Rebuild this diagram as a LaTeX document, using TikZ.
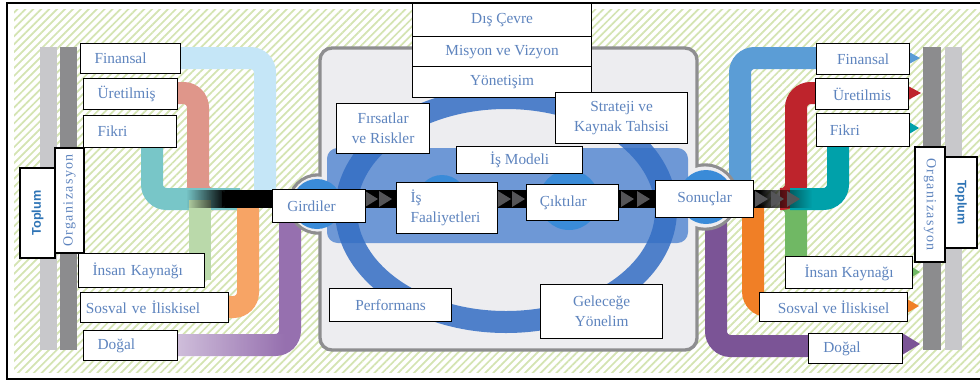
\documentclass[tikz,border=0pt]{standalone}
\usepackage{fontspec}
\setmainfont{Liberation Serif}
\newfontfamily\orgfont[LetterSpace=10]{Liberation Serif}
\newfontfamily\topfont{Liberation Sans}
\usetikzlibrary{patterns.meta,fadings}

\definecolor{txtblue}{RGB}{94,132,190}
\definecolor{topblue}{RGB}{46,116,181}
\definecolor{hatch}{RGB}{212,228,178}
\definecolor{lbFin}{RGB}{197,230,247}
\definecolor{lbUre}{RGB}{223,150,138}
\definecolor{lbFik}{RGB}{120,198,200}
\definecolor{lbIns}{RGB}{186,217,170}
\definecolor{lbSos}{RGB}{247,164,101}
\definecolor{lbDog}{RGB}{150,112,175}
\definecolor{rbFin}{RGB}{91,157,214}
\definecolor{rbUre}{RGB}{190,36,44}
\definecolor{rbFik}{RGB}{0,161,170}
\definecolor{rbIns}{RGB}{112,184,100}
\definecolor{rbSos}{RGB}{240,127,38}
\definecolor{rbDog}{RGB}{123,84,150}
\definecolor{grayDark}{RGB}{140,140,142}
\definecolor{grayLight}{RGB}{200,200,203}
\definecolor{frameGray}{RGB}{142,142,144}
\definecolor{panel}{RGB}{237,237,240}
\definecolor{ringBlue}{RGB}{52,110,196}
\definecolor{bandBlue}{RGB}{110,152,214}
\definecolor{dotBlue}{RGB}{58,139,216}
\definecolor{triGray}{RGB}{85,85,88}

\tikzfading[name=fadeIn, left color=transparent!100, right color=transparent!0]
\tikzfading[name=fadeOut, left color=transparent!0, right color=transparent!100]

\tikzset{
  box/.style={draw=black, line width=0.9pt, fill=white, inner sep=0pt, align=center,
    text=txtblue, font=\fontsize{11.5}{15}\selectfont},
  lbox/.style={box, align=left, inner xsep=10.5pt},
  band/.style={line width=16.5pt, rounded corners=11pt},
}

\begin{document}
\begin{tikzpicture}[x=0.75pt,y=0.75pt,yscale=-1,xscale=1]
\useasboundingbox (0,0) rectangle (980,383);

%Background hatch
\fill[white] (0,0) rectangle (980,383);
\fill[pattern={Lines[angle=45,distance=4.2pt,line width=1.3pt]}, pattern color=hatch] (14,9) rectangle (980,372);
\draw[line width=1.5pt] (980,3) -- (7,3) -- (7,379) -- (980,379);

%Gray bars
\fill[grayLight] (40,47) rectangle (57,350);
\fill[grayDark] (60,47) rectangle (77,350);
\fill[grayDark] (923,47) rectangle (941,350);
\fill[grayLight] (945,47) rectangle (962,350);

%Input bands
\draw[band, lbFin] (150,58) -| (265,199);
\draw[band, lbUre] (150,93) -| (198,199) -- (235,199);
\draw[band, lbFik] (152,140) |- (240,199);
\draw[band, lbIns] (200,280) -- (200,200);
\draw[band, lbSos] (180,307) -| (248,200);
\draw[band, lbDog] (150,345) -| (290,212);
\fill[white, fill opacity=0.55, path fading=fadeOut] (177,334) rectangle (285,357);

%Outcome bands
\draw[band, rbFin] (740,205) |- (840,58);
\draw[band, rbDog] (716,215) |- (840,346);
\draw[band, rbSos] (753,205) |- (800,306);
\draw[band, rbIns] (780,199) -| (796,270);
\draw[band, rbUre] (780,199) -| (796,93) -- (840,93);
\draw[band, rbFik] (790,199) -| (838,140);

%Arrow tips
\fill[rbFin] (909,52) -- (920,58) -- (909,64) -- cycle;
\fill[rbUre] (908,86) -- (921,93) -- (908,100) -- cycle;
\fill[rbFik] (909,122) -- (919,128) -- (909,134) -- cycle;
\fill[rbIns] (912,267) -- (920,272) -- (912,277) -- cycle;
\fill[rbSos] (907,299) -- (919,306) -- (907,313) -- cycle;
\fill[rbDog] (902,333) -- (920,344) -- (902,355) -- cycle;

%Organisation panel
\draw[draw=frameGray, line width=2.5pt, fill=panel] (318,204) circle[radius=29];
\draw[draw=frameGray, line width=2.5pt, fill=panel] (705,197) circle[radius=32];
\draw[draw=frameGray, line width=2.5pt, fill=panel, rounded corners=9pt] (320,48) rectangle (697,350);
\fill[panel] (318,204) circle[radius=27.5];
\fill[panel] (705,197) circle[radius=30.5];

%Business model
\fill[bandBlue, rounded corners=8pt] (327,148) rectangle (688,243);
\draw[ringBlue, line width=16.5pt, opacity=0.85] (506,210) ellipse[x radius=160, y radius=112];
\fill[dotBlue] (442,200) circle[radius=25];
\fill[dotBlue] (569,200) circle[radius=30];
\fill[dotBlue] (317,204) circle[radius=25];
\fill[dotBlue] (706,197) circle[radius=27];

%Value line
\fill[black, path fading=fadeIn] (186,190) rectangle (226,208);
\fill[black] (225,190) rectangle (760,208);
\fill[black, path fading=fadeOut] (759,190) rectangle (812,208);
\foreach \x in {222,245} \fill[black] (\x,191) -- ++(13,8) -- ++(-13,8) -- cycle;
\foreach \x in {365,379,498,512,621,637,755,771,787} \fill[triGray] (\x,191) -- ++(13,8) -- ++(-13,8) -- cycle;

% Left boxes
\node[box, rotate=90, minimum width=67.5pt, minimum height=26.25pt, text=topblue, font=\topfont\bfseries\fontsize{9.5}{11}\selectfont] (topL) at (37.5,213) {Toplum};
\node[box, rotate=90, minimum width=78.75pt, minimum height=21.75pt, font=\orgfont\fontsize{10.5}{12}\selectfont] (orgL) at (69.5,200.5) {Organizasyon};
\node[lbox, anchor=north west, text width=54pt, minimum height=22.5pt] (finL) at (80,43) {Finansal};
\node[lbox, anchor=north west, text width=49.5pt, minimum height=23.25pt] (uretL) at (83,78) {Üretilmiş};
\node[lbox, anchor=north west, text width=48.75pt, minimum height=24pt] (fikL) at (83,115) {Fikri};
\node[lbox, anchor=north west, text width=73.5pt, minimum height=25.5pt] (insL) at (78,253) {İnsan Kaynağı};
\node[lbox, anchor=north west, inner xsep=4pt, text width=103pt, minimum height=22.5pt] (sosL) at (80,292) {Sosval ve İliskisel};
\node[lbox, anchor=north west, text width=49.5pt, minimum height=22.5pt] (dogL) at (83,330) {Doğal};
\node[lbox, anchor=north west, inner xsep=11pt, text width=47.75pt, minimum height=24.75pt] (gird) at (272,189) {Girdiler};

% Centre boxes
\node[box, anchor=north west, minimum width=134.25pt, minimum height=24.75pt] (dis) at (412,3) {Dış Çevre};
\node[box, anchor=north west, minimum width=134.25pt, minimum height=22.5pt] (mis) at (412,36) {Misyon ve Vizyon};
\node[box, anchor=north west, minimum width=134.25pt, minimum height=23.25pt] (yon) at (412,66) {Yönetişim};
\node[box, anchor=north west, minimum width=69.75pt, minimum height=37.5pt] (firs) at (336,103) {Fırsatlar\\ve Riskler};
\node[box, anchor=north west, minimum width=99pt, minimum height=38.25pt] (strat) at (555,92) {Strateji ve\\Kaynak Tahsisi};
\node[box, anchor=north west, minimum width=94.5pt, minimum height=20.25pt] (ismod) at (456,146) {İş Modeli};
\node[lbox, anchor=north west, text width=54.75pt, minimum height=38.25pt] (isfa) at (396,182) {İş\\Faaliyetleri};
\node[lbox, anchor=north west, inner xsep=10pt, text width=49pt, minimum height=27pt] (cikt) at (526,184) {Çıktılar};
\node[box, anchor=north west, minimum width=73.5pt, minimum height=27.75pt] (sonuc) at (655,180) {Sonuçlar};
\node[box, anchor=north west, minimum width=91.5pt, minimum height=24.75pt] (perf) at (329,288) {Performans};
\node[box, anchor=north west, minimum width=91.5pt, minimum height=40.5pt] (gelec) at (540,284) {Geleceğe\\Yönelim};

% Right boxes
\node[box, anchor=north west, minimum width=69.75pt, minimum height=23.25pt] (finR) at (816,43) {Finansal};
\node[box, anchor=north west, minimum width=69.75pt, minimum height=23.25pt] (uretR) at (815,78) {Üretilmis};
\node[lbox, anchor=north west, inner xsep=10pt, text width=49.75pt, minimum height=24.75pt] (fikR) at (816,113) {Fikri};
\node[box, anchor=north west, minimum width=95.25pt, minimum height=24pt] (insR) at (785,256) {İnsan Kaynağı};
\node[box, anchor=north west, minimum width=111pt, minimum height=21.75pt] (sosR) at (759,292) {Sosval ve İliskisel};
\node[lbox, anchor=north west, inner xsep=11pt, text width=48.5pt, minimum height=22.5pt] (dogR) at (808,333) {Doğal};
\node[box, rotate=-90, minimum width=86.25pt, minimum height=22.5pt, font=\orgfont\fontsize{10.5}{12}\selectfont] (orgR) at (930,204.5) {Organizasyon};
\node[box, rotate=-90, minimum width=68.25pt, minimum height=24pt, text=topblue, font=\topfont\bfseries\fontsize{9.5}{11}\selectfont] (topR) at (961,202.5) {Toplum};

\end{tikzpicture}
\end{document}
